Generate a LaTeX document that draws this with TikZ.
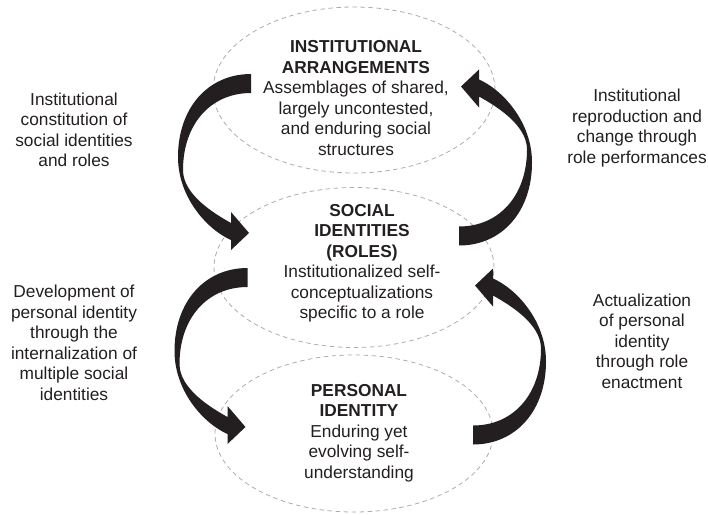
\documentclass[tikz,border=0pt]{standalone}
\usepackage{fontspec}
\setmainfont{Liberation Sans}
\usetikzlibrary{shapes.geometric}
\definecolor{ink}{RGB}{35,31,32}
\definecolor{zonegray}{RGB}{172,172,172}
\tikzset{
  lbl/.style={font=\fontsize{17.3}{20.5}\selectfont, align=center, text=ink, inner sep=0pt},
  zone/.style={ellipse, draw=zonegray, line width=0.8pt, dash pattern=on 4.5pt off 3.5pt, inner sep=0pt},
  crescent/.pic={
    \fill[ink] (251,74) .. controls (208,74) and (178,108) .. (178,157)
      .. controls (178,198) and (208,230) .. (231,240)
      -- (231,250) -- (249,233) -- (231,212) -- (231,223)
      .. controls (215,214) and (183,195) .. (183,170)
      .. controls (183,125) and (210,93) .. (251,93) -- cycle;
  }
}
\begin{document}
\begin{tikzpicture}[x=1pt,y=-1pt]
\useasboundingbox (0,0) rectangle (708,514);
% zones
\node[zone, minimum width=282pt, minimum height=166pt] (inst) at (354,90) {};
\node[zone, minimum width=280pt, minimum height=160pt] (soc) at (354,267.5) {};
\node[zone, minimum width=278pt, minimum height=157pt] (pers) at (354,433.5) {};
% zone texts
\node[lbl] (instT) at (356,98) {\textbf{INSTITUTIONAL}\\\textbf{ARRANGEMENTS}\\Assemblages of shared,\\largely uncontested,\\and enduring social\\structures};
\node[lbl] (socT) at (362,263) {\textbf{SOCIAL}\\\textbf{IDENTITIES}\\\textbf{(ROLES)}\\Institutionalized self-\\conceptualizations\\specific to a role};
\node[lbl] (persT) at (359,433) {\textbf{PERSONAL}\\\textbf{IDENTITY}\\Enduring yet\\evolving self-\\understanding};
% side labels
\node[lbl] (l1) at (74,130) {Institutional\\constitution of\\social identities\\and roles};
\node[lbl] (l2) at (74,343) {Development of\\personal identity\\through the\\internalization of\\multiple social\\identities};
\node[lbl] (r1) at (637,128) {Institutional\\reproduction and\\change through\\role performances};
\node[lbl] (r2) at (642,341) {Actualization\\of personal\\identity\\through role\\enactment};
% curved arrows
\pic at (0,0) {crescent};
\pic[shift={(710,319.5)}, rotate=180] at (0,0) {crescent};
\pic[shift={(-3.5,194)}] at (0,0) {crescent};
\pic[shift={(724,518.5)}, rotate=180] at (0,0) {crescent};
\end{tikzpicture}
\end{document}
